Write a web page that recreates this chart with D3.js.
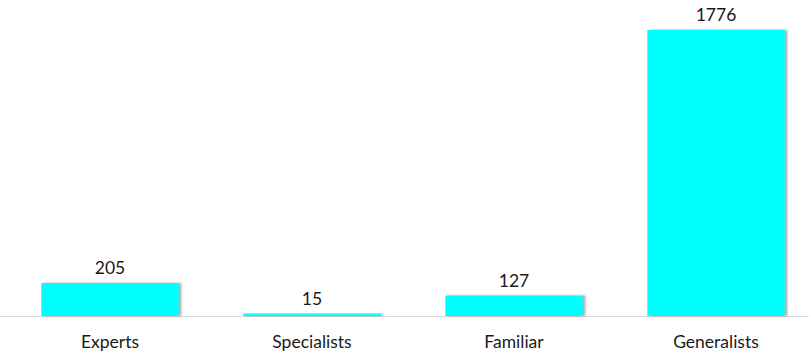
<!DOCTYPE html>
<html><head><meta charset="utf-8">
<script src="https://cdn.jsdelivr.net/npm/d3@7"></script>
<style>body{margin:0;background:#fff;}svg{display:block;}</style>
</head><body>
<script>
const categories = ["Experts", "Specialists", "Familiar", "Generalists"];
const values = [205, 15, 127, 1776];

const W = 809, H = 354;
const svg = d3.select("body").append("svg").attr("width", W).attr("height", H);
const defs = svg.append("defs");
const f = defs.append("filter").attr("id","sh").attr("x","-10%").attr("y","-10%").attr("width","130%").attr("height","130%");
f.append("feDropShadow").attr("dx",2.5).attr("dy",0).attr("stdDeviation",1.2).attr("flood-color","#000").attr("flood-opacity",0.35);

const x = d3.scaleBand().domain(categories).range([9, 817]).paddingInner(0.32).paddingOuter(0.16);
const y = d3.scaleLinear().domain([0, 1776]).range([316, 30]);

svg.append("line").attr("x1",0).attr("x2",W).attr("y1",316.5).attr("y2",316.5)
  .attr("stroke","#d9d9d9").attr("stroke-width",1);

svg.selectAll("rect.bar").data(values).join("rect").attr("class","bar")
  .attr("x",(d,i)=>x(categories[i])).attr("width",x.bandwidth())
  .attr("y",d=>y(d)).attr("height",d=>y(0)-y(d))
  .attr("fill","#00ffff").attr("filter","url(#sh)");

svg.selectAll("text.val").data(values).join("text").attr("class","val")
  .attr("x",(d,i)=>x(categories[i])+x.bandwidth()/2).attr("y",d=>y(d)-9)
  .attr("text-anchor","middle").attr("font-family","Lato, sans-serif").attr("font-size",17.5)
  .attr("fill","#1a1a1a").text(d=>d);

const xAxis = d3.axisBottom(x).tickSize(0).tickPadding(0);
const g = svg.append("g").attr("transform","translate(0,316)").call(xAxis);
g.select(".domain").remove();
g.selectAll("text").attr("y",32).attr("dy",0).attr("font-family","Lato, sans-serif").attr("font-size",17.5).attr("fill","#1a1a1a");
</script>
</body></html>
